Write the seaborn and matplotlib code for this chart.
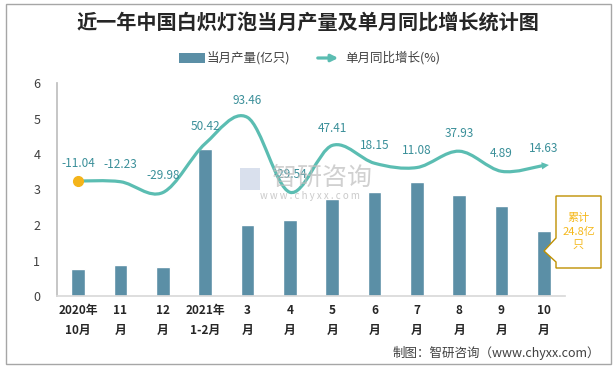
import matplotlib
matplotlib.use("Agg")
import matplotlib.pyplot as plt
import seaborn as sns
import numpy as np
import pandas as pd
from matplotlib.path import Path
from matplotlib.patches import PathPatch, Rectangle, Polygon

# data
months = ['2020年\n10月', '11\n月', '12\n月', '2021年\n1-2月', '3\n月', '4\n月',
          '5\n月', '6\n月', '7\n月', '8\n月', '9\n月', '10\n月']
output = [0.76, 0.87, 0.82, 4.14, 2.00, 2.14, 2.73, 2.93, 3.21, 2.85, 2.54, 1.83]
growth = [-11.04, -12.23, -29.98, 50.42, 93.46, -29.54, 47.41, 18.15, 11.08, 37.93, 4.89, 14.63]

bar_color = '#5B8FA6'
line_color = '#5BBDB2'
label_color = '#3A8F99'

sns.set_theme(style='white')
plt.rcParams['font.family'] = ['Noto Sans CJK SC', 'DejaVu Sans']

df = pd.DataFrame({'month': months, 'output': output})

fig = plt.figure(figsize=(6.16, 3.68), dpi=100)
ax = fig.add_axes([57 / 616, 1 - 296 / 368, 508 / 616, 213 / 368])
sns.barplot(data=df, x='month', y='output', order=months, color=bar_color,
            saturation=1, width=0.33, ax=ax)
ax.set_xlim(-0.5, 11.5)
ax.set_ylim(0, 6)
ax.set_yticks(range(7))
ax.set_xlabel('')
ax.set_ylabel('')
for s in ['top', 'right']:
    ax.spines[s].set_visible(False)
ax.spines['left'].set_color('#BFBFBF')
ax.spines['bottom'].set_color('#D9D9D9')
ax.tick_params(axis='y', length=0, labelsize=9, labelcolor='#404040', pad=12)
ax.tick_params(axis='x', which='major', length=0, labelsize=8.5, labelcolor='#262626', pad=6)
ax.set_xticks(np.arange(-0.5, 12, 1), minor=True)
ax.tick_params(axis='x', which='minor', length=5, color='#D9D9D9', width=1)
for lab in ax.get_xticklabels():
    lab.set_fontweight('bold')
    lab.set_linespacing(1.7)

# secondary axis for the growth line (hidden)
ax2 = ax.twinx()
ax2.set_ylim(-200, 150)
ax2.axis('off')

pts = np.column_stack([np.arange(len(growth)), growth]).astype(float)
n = len(pts)
verts = [tuple(pts[0])]
codes = [Path.MOVETO]
for i in range(n - 1):
    p0 = pts[i - 1] if i > 0 else pts[i]
    p1 = pts[i]
    p2 = pts[i + 1]
    p3 = pts[i + 2] if i + 2 < n else pts[i + 1]
    c1 = p1 + (p2 - p0) / 6
    c2 = p2 - (p3 - p1) / 6
    verts += [tuple(c1), tuple(c2), tuple(p2)]
    codes += [Path.CURVE4] * 3
ax2.add_patch(PathPatch(Path(verts, codes), facecolor='none', edgecolor=line_color,
                        lw=2.3, capstyle='round'))
ax2.annotate('', xy=tuple(pts[-1] + np.array([0.12, 0.6])), xytext=tuple(c2),
             arrowprops=dict(arrowstyle='-|>', color=line_color, lw=0,
                             mutation_scale=13, shrinkA=0, shrinkB=0))
ax2.plot([0], [growth[0]], 'o', color='#F4B41A', ms=7, zorder=5)

for i, g in enumerate(growth):
    ax2.annotate(f'{g:.2f}', (i, g), xytext=(0, 12.5), textcoords='offset points',
                 ha='center', va='center', fontsize=8.5, color=label_color)

# watermark
fig.text(322 / 616, 1 - 178 / 368, '智研咨询', fontsize=18, color='#BDBDBD',
         alpha=0.7, ha='center', va='center')
fig.text(310 / 616, 1 - 196 / 368, 'w w w . c h y x x . c o m', fontsize=7,
         color='#BDBDBD', alpha=0.8, ha='center', va='center')
fig.patches.append(Rectangle((240 / 616, 1 - 190 / 368), 20 / 616, 22 / 368,
                             transform=fig.transFigure, facecolor='#C9D3E6',
                             alpha=0.7, edgecolor='none'))

# callout box
box = [(556, 196), (601, 196), (601, 268), (556, 268), (556, 262), (544, 251), (556, 238)]
fig.patches.append(Polygon([(x / 616, 1 - y / 368) for x, y in box], closed=True,
                           transform=fig.transFigure, facecolor='white',
                           edgecolor='#BF9000', lw=1, zorder=10))
fig.text(578.5 / 616, 1 - 232 / 368, '累计\n24.8亿\n只', fontsize=8, color='#F5B81C',
         ha='center', va='center', linespacing=1.45, zorder=11)

# title, legend, source
fig.text(0.5, 1 - 22 / 368, '近一年中国白炽灯泡当月产量及单月同比增长统计图',
         fontsize=14.5, fontweight='bold', color='#262626', ha='center', va='center')
fig.patches.append(Rectangle((179 / 616, 1 - 63 / 368), 26 / 616, 10 / 368,
                             transform=fig.transFigure, facecolor=bar_color,
                             edgecolor='none'))
fig.text(207 / 616, 1 - 58 / 368, '当月产量(亿只)', fontsize=9, color='#404040',
         ha='left', va='center')
fig.add_artist(matplotlib.patches.FancyArrowPatch(
    (315 / 616, 1 - 58 / 368), (341 / 616, 1 - 58 / 368), transform=fig.transFigure,
    arrowstyle='-|>', mutation_scale=10, color=line_color, lw=2.3))
fig.text(345 / 616, 1 - 58 / 368, '单月同比增长(%)', fontsize=9, color='#404040',
         ha='left', va='center')
fig.text(600 / 616, 1 - 353 / 368, '制图：智研咨询（www.chyxx.com）', fontsize=9,
         color='#404040', ha='right', va='center')

fig.patches.append(Rectangle((6 / 616, 1 - 364 / 368), 605 / 616, 360 / 368,
                             transform=fig.transFigure, facecolor='none',
                             edgecolor='#A6A6A6', lw=1))

fig.savefig('out.png', dpi=100)
